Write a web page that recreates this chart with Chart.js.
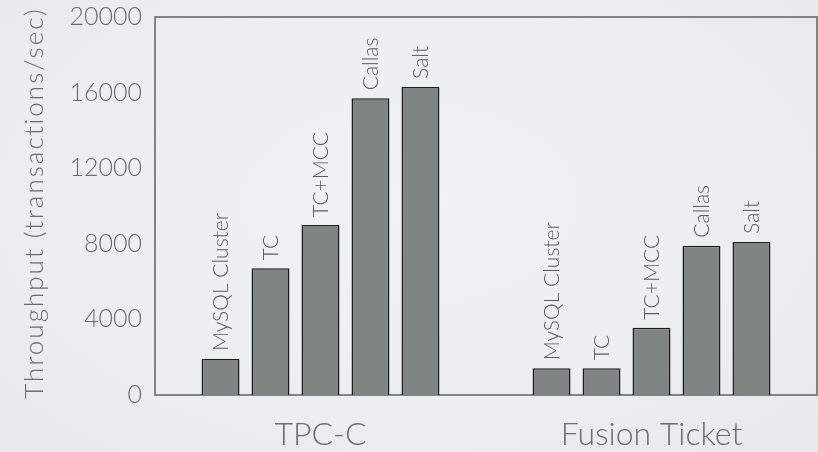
<!DOCTYPE html>
<html>
<head>
<meta charset="utf-8">
<script src="https://cdn.jsdelivr.net/npm/chart.js@4/dist/chart.umd.min.js"></script>
<style>
  html, body { margin: 0; padding: 0; }
  body {
    width: 818px; height: 452px; overflow: hidden;
    background: radial-gradient(ellipse at 50% 45%, #f1f2f4 0%, #eceef0 60%, #e6e8ea 100%);
  }
</style>
</head>
<body>
<canvas id="throughputChart" width="818" height="452"></canvas>
<script>
const workloads = ['TPC-C', 'Fusion Ticket'];
const systems = ['MySQL Cluster', 'TC', 'TC+MCC', 'Callas', 'Salt'];
const mysqlCluster = [1900, 1410];
const tc = [6700, 1410];
const tcMcc = [9000, 3560];
const callas = [15700, 7900];
const salt = [16300, 8100];
const yTicks = [0, 4000, 8000, 12000, 16000, 20000];

const seriesValues = [mysqlCluster, tc, tcMcc, callas, salt];
const textColor = '#6b6d6f';
const fontFamily = "'Lato', 'Open Sans', sans-serif";
const yTitle = 'Throughput (transactions/sec)';

// outline around the whole plot area
const frame = {
  id: 'frame',
  beforeDatasetsDraw(chart) {
    const { ctx, chartArea: a } = chart;
    ctx.save();
    ctx.strokeStyle = '#5f6163';
    ctx.lineWidth = 1.5;
    ctx.strokeRect(a.left, a.top, a.right - a.left, a.bottom - a.top);
    ctx.restore();
  }
};

// system names written upward above each bar
const barNames = {
  id: 'barNames',
  afterDatasetsDraw(chart) {
    const ctx = chart.ctx;
    ctx.save();
    ctx.font = '300 21px ' + fontFamily;
    ctx.fillStyle = '#5a5c5e';
    ctx.textAlign = 'left';
    ctx.textBaseline = 'middle';
    chart.data.datasets.forEach((ds, i) => {
      chart.getDatasetMeta(i).data.forEach(bar => {
        ctx.save();
        ctx.translate(bar.x, bar.y - 8);
        ctx.rotate(-Math.PI / 2);
        ctx.fillText(ds.label, 0, 1);
        ctx.restore();
      });
    });
    ctx.restore();
  }
};

// wide-tracked vertical axis title
const axisTitle = {
  id: 'axisTitle',
  afterDraw(chart) {
    const ctx = chart.ctx;
    ctx.save();
    ctx.font = '300 26px ' + fontFamily;
    ctx.letterSpacing = '2px';
    ctx.fillStyle = textColor;
    ctx.textAlign = 'center';
    ctx.textBaseline = 'middle';
    ctx.translate(35, 203);
    ctx.rotate(-Math.PI / 2);
    ctx.fillText(yTitle, 0, 0);
    ctx.restore();
  }
};

new Chart(document.getElementById('throughputChart'), {
  type: 'bar',
  data: {
    labels: workloads,
    datasets: systems.map((name, i) => ({
      label: name,
      data: seriesValues[i],
      backgroundColor: '#7f8582',
      borderColor: '#1c1d1e',
      borderWidth: 1.5,
      borderSkipped: 'bottom',
      categoryPercentage: 0.755,
      barPercentage: 0.76
    }))
  },
  options: {
    responsive: false,
    animation: false,
    layout: { padding: { top: 17, right: 1, left: 0, bottom: 0 } },
    plugins: {
      legend: { display: false },
      tooltip: { enabled: false }
    },
    scales: {
      x: {
        grid: { display: false, drawTicks: false },
        border: { display: false },
        ticks: {
          color: textColor,
          padding: 20,
          autoSkip: false,
          maxRotation: 0,
          font: { family: fontFamily, size: 32, weight: '300' }
        },
        afterFit(scale) { scale.height = 57; }
      },
      y: {
        min: 0,
        max: 20000,
        afterBuildTicks(scale) { scale.ticks = yTicks.map(v => ({ value: v })); },
        grid: { display: false, drawTicks: false },
        border: { display: false },
        ticks: {
          color: textColor,
          padding: 13,
          callback: v => String(v),
          font: { family: fontFamily, size: 25, weight: '300' }
        },
        afterFit(scale) {
          scale.width = 155;
          scale.paddingTop = 0;
          scale.paddingBottom = 0;
        }
      }
    }
  },
  plugins: [frame, barNames, axisTitle]
});
</script>
</body>
</html>
